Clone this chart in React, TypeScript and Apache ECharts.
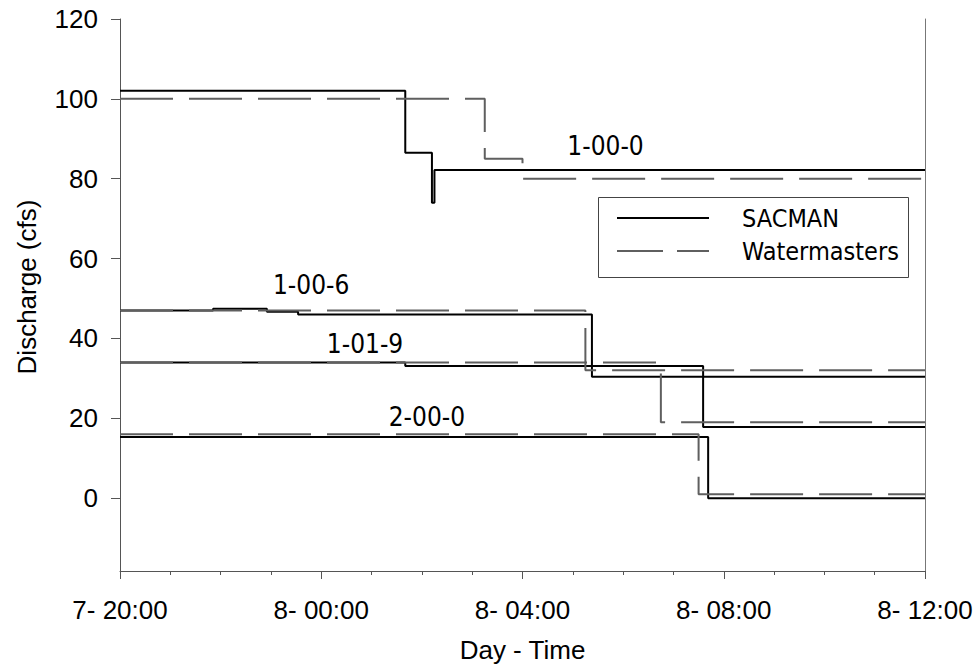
import React, { useEffect, useRef } from "react";
import * as echarts from "echarts";

// X axis: hours since 7- 20:00
const xTickHours = [0, 4, 8, 12, 16];
const xTickLabels = ["7- 20:00", "8- 00:00", "8- 04:00", "8- 08:00", "8- 12:00"];
const yTicks = [0, 20, 40, 60, 80, 100, 120];

// SACMAN (solid) step series: change times (h) and values (cfs)
const sac1000T = [0, 5.67, 6.2, 6.25, 16];
const sac1000V = [102, 86.5, 74, 82.2, 82.2];
const sac1006T = [0, 1.85, 2.92, 3.54, 9.38, 16];
const sac1006V = [47, 47.4, 46.7, 46, 30.4, 30.4];
const sac1019T = [0, 5.67, 11.59, 16];
const sac1019V = [34, 33.1, 17.8, 17.8];
const sac2000T = [0, 11.69, 16];
const sac2000V = [15.3, 0, 0];

// Watermasters (dashed) step series
const wm1000T = [0, 7.25, 8.0, 16];
const wm1000V = [100, 85, 80, 80];
const wm1006T = [0, 9.25, 16];
const wm1006V = [47, 32, 32];
const wm1019T = [0, 10.75, 16];
const wm1019V = [34, 19, 19];
const wm2000T = [0, 11.5, 16];
const wm2000V = [16, 1, 1];

// Gauge labels: [hour, value, text]
const gaugeLabelText = ["1-00-0", "1-00-6", "1-01-9", "2-00-0"];
const gaugeLabelH = [9.65, 3.8, 4.87, 6.1];
const gaugeLabelV = [88.1, 53.4, 38.5, 20.25];

const TICK_FONT = "'Liberation Sans', Arial, sans-serif";
const LABEL_FONT = "'DejaVu Sans Condensed', 'Noto Sans', sans-serif";

function pairs(t: number[], v: number[]) {
  return t.map((x, i) => [x, v[i]]);
}

export default function App() {
  const ref = useRef<HTMLDivElement>(null);
  useEffect(() => {
    document.body.style.margin = "0";
    const chart = echarts.init(ref.current!, null, { renderer: "svg" });
    const solid = (t: number[], v: number[]) => ({
      name: "SACMAN",
      type: "line",
      step: "end",
      symbol: "none",
      data: pairs(t, v),
      lineStyle: { color: "#000", width: 2 },
      itemStyle: { color: "#000" },
      z: 2,
    });
    const dashed = (t: number[], v: number[]) => ({
      name: "Watermasters",
      type: "line",
      step: "end",
      symbol: "none",
      data: pairs(t, v),
      lineStyle: { color: "#5f5f5f", width: 2, type: [53, 16] },
      itemStyle: { color: "#5f5f5f" },
      z: 3,
    });
    const axisColor = "#555";
    chart.setOption({
      animation: false,
      grid: { left: 120, right: 54, top: 19, bottom: 96, containLabel: false },
      xAxis: {
        type: "value",
        min: 0,
        max: 16,
        interval: 4,
        name: "Day - Time",
        nameLocation: "middle",
        nameGap: 66,
        nameTextStyle: { fontFamily: TICK_FONT, fontSize: 26, color: "#000" },
        axisLine: { show: true, onZero: false, lineStyle: { color: axisColor, width: 1 } },
        axisTick: { show: true, length: 8, lineStyle: { color: axisColor } },
        minorTick: { show: true, splitNumber: 4, length: 4, lineStyle: { color: axisColor } },
        splitLine: { show: false },
        minorSplitLine: { show: false },
        axisLabel: {
          margin: 26,
          fontFamily: TICK_FONT,
          fontSize: 26,
          color: "#000",
          formatter: (v: number) => {
            const i = xTickHours.indexOf(v);
            return i >= 0 ? xTickLabels[i] : "";
          },
        },
      },
      yAxis: [
        {
          type: "value",
          min: -18.25,
          max: 120,
          name: "Discharge (cfs)",
          nameLocation: "middle",
          nameGap: 80,
          nameTextStyle: { fontFamily: TICK_FONT, fontSize: 26, color: "#000", padding: [0, 0, 0, 16] },
          axisLine: { show: true, lineStyle: { color: axisColor, width: 1 } },
          axisTick: { show: true, length: 9, customValues: yTicks, lineStyle: { color: axisColor } },
          axisLabel: { customValues: yTicks, margin: 22, fontFamily: TICK_FONT, fontSize: 26, color: "#000" },
          splitLine: { show: false },
        },
        {
          type: "value",
          position: "right",
          min: -18.25,
          max: 120,
          axisLine: { show: true, lineStyle: { color: "#777", width: 1 } },
          axisTick: { show: false },
          axisLabel: { show: false },
          splitLine: { show: false },
        },
      ],
      legend: {
        orient: "vertical",
        left: 617,
        top: 205,
        padding: 0,
        itemWidth: 92,
        itemHeight: 2,
        itemGap: 7,
        selectedMode: false,
        textStyle: { fontFamily: LABEL_FONT, fontSize: 25, lineHeight: 26, color: "#000", padding: [0, 0, 0, 28] },
        data: [
          { name: "SACMAN", icon: "path://M0,0H92V2H0Z" },
          { name: "Watermasters", icon: "path://M0,0H46V2H0Z M60,0H92V2H60Z" },
        ],
      },
      graphic: [
        {
          type: "rect",
          shape: { x: 598.5, y: 197.5, width: 310, height: 80 },
          style: { fill: "#fff", stroke: "#444", lineWidth: 1 },
          z: 1,
        },
      ],
      series: [
        solid(sac1000T, sac1000V),
        solid(sac1006T, sac1006V),
        solid(sac1019T, sac1019V),
        solid(sac2000T, sac2000V),
        dashed(wm1000T, wm1000V),
        dashed(wm1006T, wm1006V),
        dashed(wm1019T, wm1019V),
        dashed(wm2000T, wm2000V),
        {
          name: "gauges",
          type: "scatter",
          symbolSize: 0.1,
          itemStyle: { color: "#000", opacity: 1 },
          emphasis: { disabled: true },
          data: gaugeLabelText.map((s, i) => [gaugeLabelH[i], gaugeLabelV[i], s]),
          label: {
            show: true,
            position: "inside",
            formatter: (p: any) => p.data[2],
            fontFamily: LABEL_FONT,
            fontSize: 26,
            color: "#000",
            opacity: 1,
            textBorderWidth: 0,
          },
          z: 4,
        },
      ],
    });
    return () => chart.dispose();
  }, []);
  return <div ref={ref} style={{ width: 979, height: 668 }} />;
}
